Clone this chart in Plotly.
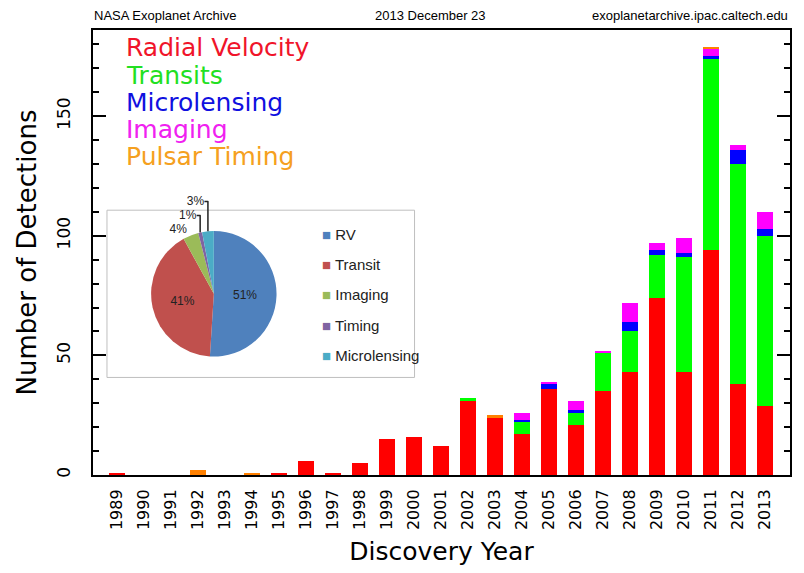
import plotly.graph_objects as go

# ---------------- data ----------------
years = list(range(1989, 2014))
year_labels = [str(y) for y in years]
radial_velocity = [1, 0, 0, 0, 0, 0, 1, 6, 1, 5, 15, 16, 12, 31, 24, 17, 36, 21, 35, 43, 74, 43, 94, 38, 29]
transits        = [0, 0, 0, 0, 0, 0, 0, 0, 0, 0, 0, 0, 0, 1, 0, 5, 0, 5, 16, 17, 18, 48, 80, 92, 71]
microlensing    = [0, 0, 0, 0, 0, 0, 0, 0, 0, 0, 0, 0, 0, 0, 0, 1, 2, 1, 0, 4, 2, 2, 1, 6, 3]
imaging         = [0, 0, 0, 0, 0, 0, 0, 0, 0, 0, 0, 0, 0, 0, 0, 3, 1, 4, 1, 8, 3, 6, 3, 2, 7]
pulsar_timing   = [0, 0, 0, 2, 0, 1, 0, 0, 0, 0, 0, 0, 0, 0, 1, 0, 0, 0, 0, 0, 0, 0, 1, 0, 0]

series_names = ["Radial Velocity", "Transits", "Microlensing", "Imaging", "Pulsar Timing"]
series_colors = ["#FF0000", "#00FF00", "#0000FF", "#FF00FF", "#FF8000"]
legend_text_colors = ["#F0142A", "#22E022", "#1010E0", "#F020F0", "#F5A020"]

pie_labels = ["RV", "Transit", "Imaging", "Timing", "Microlensing"]
pie_values = [51, 41, 4, 1, 3]
pie_colors = ["#4F81BD", "#C0504D", "#9BBB59", "#8064A2", "#4BACC6"]

# ---------------- layout helpers (pixel -> paper) ----------------
W, H = 804, 573
L, R, T, B = 93, 13, 30, 96
PW, PH = W - L - R, H - T - B


def px(x):
    return (x - L) / PW


def py(y):
    return (H - B - y) / PH


fig = go.Figure()

for vals, name, col in zip([radial_velocity, transits, microlensing, imaging, pulsar_timing],
                           series_names, series_colors):
    fig.add_trace(go.Bar(x=years, y=vals, name=name, marker=dict(color=col, line=dict(width=0)),
                         width=0.58, showlegend=False))

fig.add_trace(go.Pie(labels=pie_labels, values=pie_values, sort=False, direction="clockwise",
                     rotation=0, marker=dict(colors=pie_colors, line=dict(width=0)),
                     textinfo="percent", texttemplate="%{percent:.0%}",
                     textposition=["inside", "inside", "outside", "outside", "outside"],
                     insidetextorientation="horizontal",
                     textfont=dict(size=12, color="#222222", family="Liberation Sans Narrow, Liberation Sans, sans-serif"),
                     domain=dict(x=[px(149), px(279)], y=[py(358), py(232)]),
                     showlegend=False, hoverinfo="skip"))

annotations = []
# header
hdr_font = dict(family="Liberation Sans, Arial, sans-serif", size=13, color="black")
annotations.append(dict(text="NASA Exoplanet Archive", x=px(92), y=py(15), xref="paper", yref="paper",
                        xanchor="left", yanchor="middle", showarrow=False, font=hdr_font))
annotations.append(dict(text="2013 December 23", x=px(431), y=py(15), xref="paper", yref="paper",
                        xanchor="center", yanchor="middle", showarrow=False, font=hdr_font))
annotations.append(dict(text="exoplanetarchive.ipac.caltech.edu", x=px(791), y=py(15), xref="paper", yref="paper",
                        xanchor="right", yanchor="middle", showarrow=False, font=hdr_font))

# colored text legend
for i, (name, col) in enumerate(zip(series_names, legend_text_colors)):
    annotations.append(dict(text=name, x=px(124), y=py(48 + i * 27.3), xref="paper", yref="paper",
                            xanchor="left", yanchor="middle", showarrow=False,
                            font=dict(family="DejaVu Sans, sans-serif", size=25, color=col)))

# pie legend
for i, (lab, col) in enumerate(zip(pie_labels, pie_colors)):
    annotations.append(dict(text=f'<span style="color:{col}">■</span> {lab}', x=px(320), y=py(235 + i * 30.5),
                            xref="paper", yref="paper", xanchor="left", yanchor="middle", showarrow=False,
                            font=dict(family="Liberation Sans Narrow, Liberation Sans, sans-serif", size=15,
                                      color="#222222")))

fig.update_layout(
    width=W, height=H,
    margin=dict(l=L, r=R, t=T, b=B),
    paper_bgcolor="white", plot_bgcolor="white",
    barmode="stack", bargap=0.4,
    annotations=annotations,
    shapes=[dict(type="rect", xref="paper", yref="paper", x0=px(107), x1=px(415), y0=py(379), y1=py(211),
                 line=dict(color="#BFBFBF", width=1), fillcolor="white", layer="below")],
    font=dict(family="DejaVu Sans, sans-serif", color="black"),
)

fig.update_xaxes(range=[1988.11, 2013.92], tickmode="array", tickvals=years, ticktext=year_labels,
                 tickangle=-90, ticks="", showgrid=False, zeroline=False,
                 showline=True, linecolor="black", linewidth=2, mirror=True,
                 tickfont=dict(size=16, family="DejaVu Sans, sans-serif", color="black"),
                 ticklabelstandoff=6,
                 title=dict(text="Discovery Year", font=dict(size=25, family="DejaVu Sans, sans-serif"),
                            standoff=13))

fig.update_yaxes(range=[0, 186], tickmode="linear", tick0=0, dtick=50, ticks="inside", ticklen=13,
                 tickwidth=2, tickcolor="black", tickangle=-90,
                 minor=dict(dtick=10, ticks="inside", ticklen=6, tickwidth=1.5, tickcolor="black", showgrid=False),
                 showgrid=False, zeroline=False, showline=True, linecolor="black", linewidth=2, mirror="ticks",
                 tickfont=dict(size=17, family="DejaVu Sans, sans-serif", color="black"),
                 ticklabelstandoff=14,
                 title=dict(text="Number of Detections", font=dict(size=26, family="DejaVu Sans, sans-serif"),
                            standoff=10))

fig.write_html("out.html")
